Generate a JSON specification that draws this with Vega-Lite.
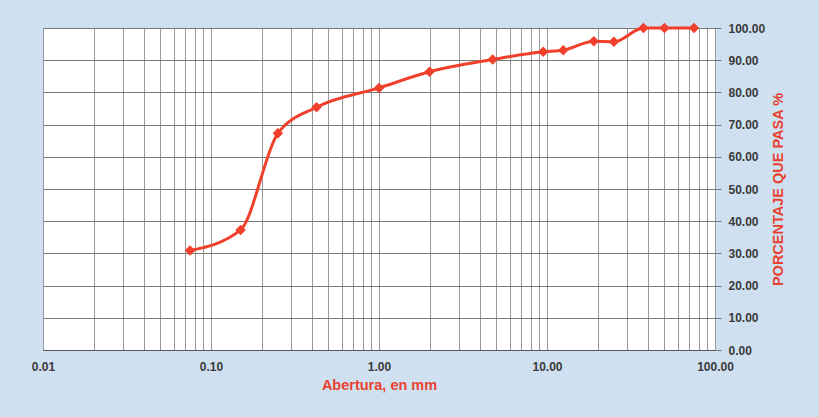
{
  "$schema": "https://vega.github.io/schema/vega-lite/v6.json",
  "autosize": {"type": "none"},
  "width": 672,
  "height": 322,
  "padding": {"left": 43, "top": 28, "right": 104, "bottom": 67},
  "background": "#cfe1f1",
  "config": {
    "font": "Liberation Sans",
    "view": {"fill": "#ffffff", "stroke": "#8c8c8c", "strokeWidth": 1}
  },
  "data": {
    "values": [
      {"abertura": 0.075, "pasa": 30.9},
      {"abertura": 0.15, "pasa": 37.3},
      {"abertura": 0.25, "pasa": 67.3},
      {"abertura": 0.425, "pasa": 75.4},
      {"abertura": 1.0, "pasa": 81.4},
      {"abertura": 2.0, "pasa": 86.4},
      {"abertura": 4.75, "pasa": 90.2},
      {"abertura": 9.5, "pasa": 92.6},
      {"abertura": 12.5, "pasa": 93.1},
      {"abertura": 19.0, "pasa": 95.9},
      {"abertura": 25.0, "pasa": 95.7},
      {"abertura": 37.5, "pasa": 100.0},
      {"abertura": 50.0, "pasa": 100.0},
      {"abertura": 75.0, "pasa": 100.0}
    ]
  },
  "encoding": {
    "x": {
      "field": "abertura",
      "type": "quantitative",
      "scale": {"type": "log", "domain": [0.01, 100], "nice": false},
      "axis": {
        "title": "Abertura, en mm",
        "titleColor": "#e8412f",
        "titleFont": "Liberation Sans",
        "titleFontSize": 14.5,
        "titleFontWeight": "bold",
        "titlePadding": 6,
        "values": [0.01, 0.02, 0.03, 0.04, 0.05, 0.06, 0.07, 0.08, 0.09,
                   0.1, 0.2, 0.3, 0.4, 0.5, 0.6, 0.7, 0.8, 0.9,
                   1, 2, 3, 4, 5, 6, 7, 8, 9,
                   10, 20, 30, 40, 50, 60, 70, 80, 90, 100],
        "labelExpr": "abs(log(datum.value) / LN10 - round(log(datum.value) / LN10)) < 1e-6 ? format(datum.value, '.2f') : ''",
        "labelFontSize": 12,
        "labelFontWeight": "bold",
        "labelColor": "#3a3a3a",
        "labelPadding": 11,
        "labelOverlap": false,
        "labelFlush": false,
        "ticks": false,
        "domainColor": "#555555",
        "grid": true,
        "gridColor": "#999999",
        "gridWidth": 1
      }
    },
    "y": {
      "field": "pasa",
      "type": "quantitative",
      "scale": {"domain": [0, 100], "nice": false},
      "axis": {
        "orient": "right",
        "title": "PORCENTAJE QUE PASA %",
        "titleColor": "#e8412f",
        "titleFont": "Liberation Sans",
        "titleFontSize": 14.5,
        "titleFontWeight": "bold",
        "titleAngle": -90,
        "titlePadding": 21,
        "values": [0, 10, 20, 30, 40, 50, 60, 70, 80, 90, 100],
        "format": ".2f",
        "labelFontSize": 12,
        "labelFontWeight": "bold",
        "labelColor": "#3a3a3a",
        "labelPadding": 7,
        "tickSize": 6,
        "tickColor": "#777777",
        "domain": false,
        "grid": true,
        "gridColor": "#7a7a7a",
        "gridWidth": 1
      }
    }
  },
  "layer": [
    {
      "mark": {"type": "line", "interpolate": "monotone", "color": "#f0402c", "strokeWidth": 3}
    },
    {
      "mark": {"type": "point", "shape": "diamond", "filled": true, "size": 110, "color": "#f0402c", "opacity": 1}
    }
  ]
}
